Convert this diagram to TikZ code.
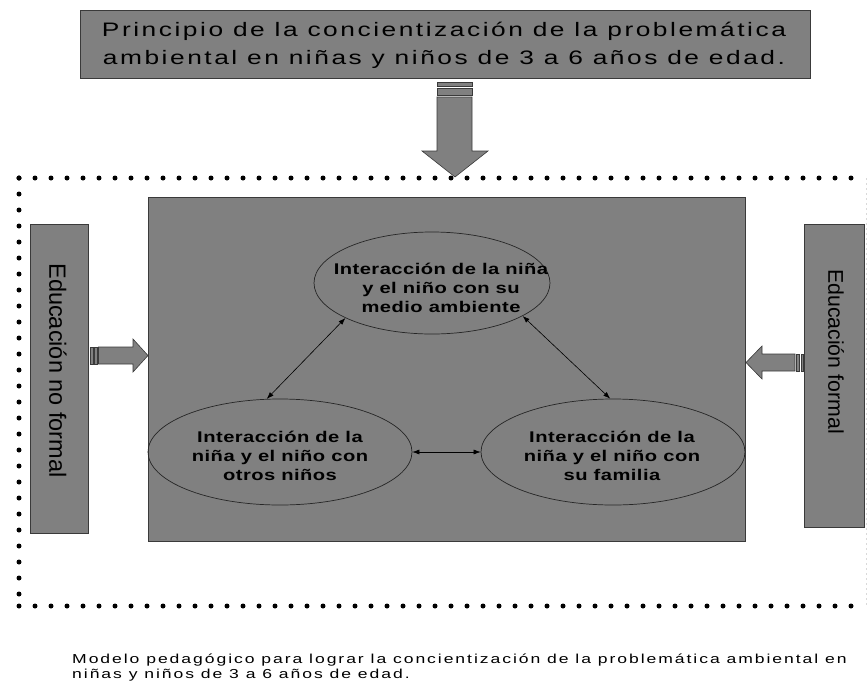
\documentclass[tikz,border=0pt]{standalone}
\usepackage{fontspec}
\setmainfont{Liberation Sans}
\newfontfamily\titlefont[FakeStretch=1.35,LetterSpace=13]{Liberation Sans}
\newfontfamily\ellfont[FakeStretch=1.3,LetterSpace=3]{Liberation Sans Bold}
\newfontfamily\capfont[FakeStretch=1.35,LetterSpace=15]{Liberation Sans}
\usetikzlibrary{shapes.geometric,arrows.meta}
\definecolor{boxgray}{HTML}{808080}
\definecolor{edgegray}{HTML}{3A3A3A}
\tikzset{
  graybox/.style={draw=edgegray, fill=boxgray, line width=0.8pt, inner sep=0pt},
  ell/.style={ellipse, draw=black!85, line width=0.7pt, inner sep=0pt},
  elltext/.style={align=center, inner sep=0pt, font=\ellfont\fontsize{15.5}{19}\selectfont},
  blockarrow/.style={draw=edgegray, fill=boxgray, line width=0.6pt},
  link/.style={draw=black, line width=0.6pt, {Latex[length=7pt,width=5pt]}-{Latex[length=7pt,width=5pt]}},
  dotframe/.style={draw=black, line width=5pt, line cap=round, dash pattern=on 0pt off 16pt},
  sidetext/.style={rotate=-90, inner sep=0pt}
}
\begin{document}
\begin{tikzpicture}[x=1pt,y=-1pt]
\useasboundingbox (0,0) rectangle (868,686);
% top title box
\node[graybox, minimum width=730pt, minimum height=68pt] (title) at (445,44) {};
\node[align=center, inner sep=0pt, font=\titlefont\fontsize{19.5}{27.5}\selectfont] (titletxt) at (444,45.5)
  {Principio de la concientización de la problemática\\ambiental en niñas y niños de 3 a 6 años de edad.};
% down arrow
\fill[boxgray, draw=edgegray, line width=0.5pt] (437,82) rectangle (472,86);
\fill[boxgray, draw=edgegray, line width=0.5pt] (437,88.5) rectangle (472,95);
\draw[blockarrow] (437,97) -- (472,97) -- (472,151) -- (488,151) -- (455,177) -- (422,151) -- (437,151) -- cycle;
% dotted frame
\draw[dotframe] (19,178) -- (866,178);
\draw[dotframe] (19,178) -- (19,606);
\draw[dotframe] (19,606) -- (866,606);
\draw[draw=black!15, line width=0.6pt, dash pattern=on 2pt off 3pt] (866,178) -- (866,606);
% main box
\node[graybox, minimum width=597pt, minimum height=344pt] (main) at (446.5,369) {};
% side boxes
\node[graybox, minimum width=58pt, minimum height=309pt] (left) at (59,378.5) {};
\node[sidetext, font=\fontsize{23.5}{26}\selectfont] (lefttxt) at (58,370.5) {Educación no formal};
\node[graybox, minimum width=60pt, minimum height=303pt] (right) at (834,375.5) {};
\node[sidetext, font=\fontsize{21.3}{24}\selectfont] (righttxt) at (836,351.5) {Educación formal};
% side arrows
\draw[blockarrow] (90,347) rectangle (93,364);
\draw[blockarrow] (94.5,347) rectangle (97,364);
\draw[blockarrow] (98.5,347) -- (133,347) -- (133,339) -- (148,355.5) -- (133,372) -- (133,364) -- (98.5,364) -- cycle;
\draw[blockarrow] (801,354) rectangle (803,371);
\draw[blockarrow] (796.5,354) rectangle (799.5,371);
\draw[blockarrow] (795,354) -- (762,354) -- (762,346) -- (746,362.5) -- (762,379) -- (762,371) -- (795,371) -- cycle;
% ellipses
\node[ell, minimum width=236pt, minimum height=102pt] (top) at (432,283) {};
\node[elltext] (toptxt) at (441,288) {Interacción de la niña\\y el niño con su\\medio ambiente};
\node[ell, minimum width=264pt, minimum height=106pt] (lft) at (280,452) {};
\node[elltext] (lfttxt) at (280,456) {Interacción de la\\niña y el niño con\\otros niños};
\node[ell, minimum width=264pt, minimum height=106pt] (rgt) at (613,452) {};
\node[elltext] (rgttxt) at (612,456) {Interacción de la\\niña y el niño con\\su familia};
% links
\draw[link] (top.202) -- (lft.104);
\draw[link] (top.340) -- (rgt.93);
\draw[link] (lft.east) -- (rgt.west);
% caption
\node[anchor=north west, align=left, inner sep=0pt, font=\capfont\fontsize{13}{14.5}\selectfont] (caption) at (72,654)
  {Modelo pedagógico para lograr la concientización de la problemática ambiental en\\niñas y niños de 3 a 6 años de edad.};
\end{tikzpicture}
\end{document}
